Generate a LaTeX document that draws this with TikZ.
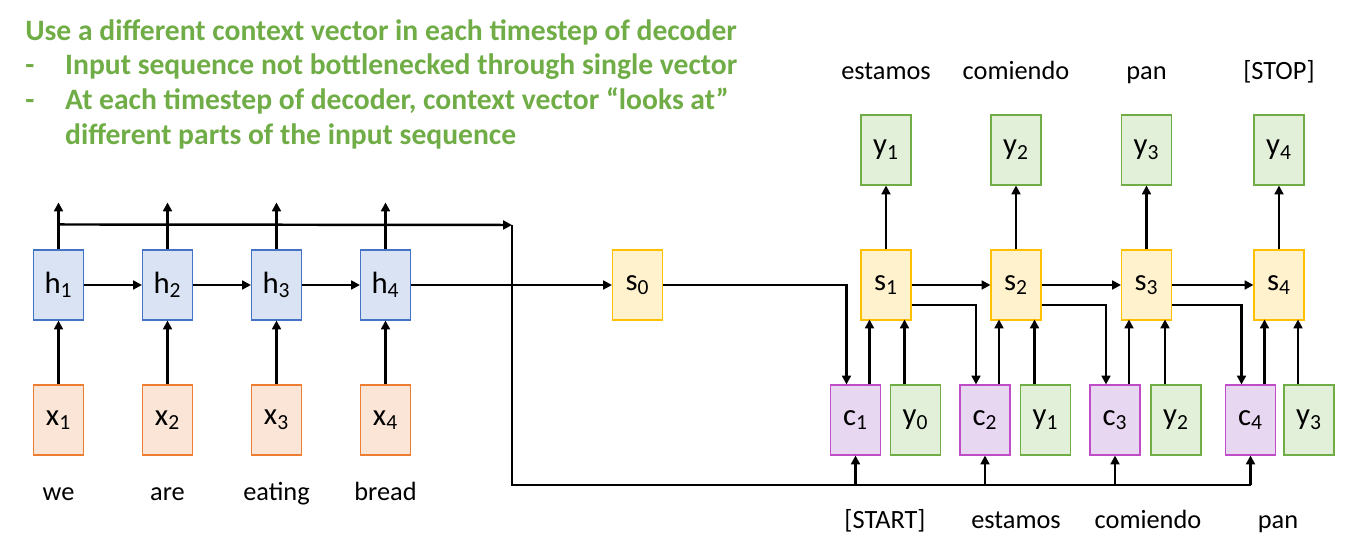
\documentclass[tikz,border=0pt]{standalone}
\usepackage{fontspec}
\setmainfont{Carlito}
\usetikzlibrary{positioning,arrows.meta,calc}
\definecolor{encblue}{HTML}{4472C4}
\definecolor{encfill}{HTML}{DAE3F3}
\definecolor{inorange}{HTML}{ED7D31}
\definecolor{infill}{HTML}{FBE5D6}
\definecolor{decgold}{HTML}{FFC000}
\definecolor{decfill}{HTML}{FFF2CC}
\definecolor{outgreen}{HTML}{70AD47}
\definecolor{outfill}{HTML}{E2F0D9}
\definecolor{ctxpurple}{HTML}{C04CC8}
\definecolor{ctxfill}{HTML}{E8D7F1}
\newcommand{\vsub}[2]{#1\textsubscript{#2}}
\tikzset{
  cell/.style={draw, line width=0.6pt, minimum width=1cm, minimum height=1.4cm,
               inner sep=0pt, font=\fontsize{17.5}{20}\selectfont},
  enc/.style={cell, draw=encblue, fill=encfill},
  inp/.style={cell, draw=inorange, fill=infill},
  dec/.style={cell, draw=decgold, fill=decfill},
  outp/.style={cell, draw=outgreen, fill=outfill},
  ctx/.style={cell, draw=ctxpurple, fill=ctxfill},
  word/.style={inner sep=0pt, text height=10pt, text depth=3pt,
               font=\fontsize{15}{18}\selectfont},
  wire/.style={line width=1.4pt},
  arr/.style={wire, -{Triangle[length=5pt,width=5pt]}}
}

\begin{document}
\begin{tikzpicture}[x=0.02cm, y=-0.02cm]
    \useasboundingbox (0,0) rectangle (1360,546);
    % heading
    \node[anchor=north west, inner sep=0pt, align=left, text=outgreen,
          font=\fontsize{16.85}{19.8}\selectfont\bfseries] (head) at (25,19)
      {Use a different context vector in each timestep of decoder\\
       \makebox[22.7pt][l]{-}Input sequence not bottlenecked through single vector\\
       \makebox[22.7pt][l]{-}At each timestep of decoder, context vector “looks at”\\
       \hspace*{22.7pt}different parts of the input sequence};
    % encoder
    \node[enc] (h1) at (58.5,285) {\vsub{h}{1}};
    \node[enc] (h2) at (167.5,285) {\vsub{h}{2}};
    \node[enc] (h3) at (276.5,285) {\vsub{h}{3}};
    \node[enc] (h4) at (385.5,285) {\vsub{h}{4}};
    \node[inp] (x1) at (58.5,420) {\vsub{x}{1}};
    \node[inp] (x2) at (167.5,420) {\vsub{x}{2}};
    \node[inp] (x3) at (276.5,420) {\vsub{x}{3}};
    \node[inp] (x4) at (385.5,420) {\vsub{x}{4}};
    \node[word, below=15.5pt of x1] (w1) {we};
    \node[word, below=15.5pt of x2] (w2) {are};
    \node[word, below=15.5pt of x3] (w3) {eating};
    \node[word, below=15.5pt of x4] (w4) {bread};
    % decoder
    \node[dec] (s0) at (637.5,285) {\vsub{s}{0}};
    \node[dec] (s1) at (886,285) {\vsub{s}{1}};
    \node[dec] (s2) at (1016,285) {\vsub{s}{2}};
    \node[dec] (s3) at (1146.5,285) {\vsub{s}{3}};
    \node[dec] (s4) at (1279,285) {\vsub{s}{4}};
    \node[outp] (o1) at (886,150) {\vsub{y}{1}};
    \node[outp] (o2) at (1016,150) {\vsub{y}{2}};
    \node[outp] (o3) at (1146.5,150) {\vsub{y}{3}};
    \node[outp] (o4) at (1279,150) {\vsub{y}{4}};
    \node[word, above=16.8pt of o1] (t1) {estamos};
    \node[word, above=16.8pt of o2] (t2) {comiendo};
    \node[word, above=16.8pt of o3] (t3) {pan};
    \node[word, above=16.8pt of o4] (t4) {[STOP]};
    \node[ctx] (c1) at (855.5,420) {\vsub{c}{1}};
    \node[outp] (y0) at (915.5,420) {\vsub{y}{0}};
    \node[ctx] (c2) at (985,420) {\vsub{c}{2}};
    \node[outp] (y1) at (1045.5,420) {\vsub{y}{1}};
    \node[ctx] (c3) at (1115,420) {\vsub{c}{3}};
    \node[outp] (y2) at (1176,420) {\vsub{y}{2}};
    \node[ctx] (c4) at (1250.5,420) {\vsub{c}{4}};
    \node[outp] (y3) at (1309,420) {\vsub{y}{3}};
    \node[word, anchor=base] (p1) at (885,529) {[START]};
    \node[word, anchor=base] (p2) at (1016,529) {estamos};
    \node[word, anchor=base] (p3) at (1148,529) {comiendo};
    \node[word, anchor=base] (p4) at (1278,529) {pan};
    \coordinate (ctxin) at (512,225);
    \coordinate (bus) at (512,485);

    % encoder wiring
    \draw[arr] (x1) -- (h1);
    \draw[arr] (x2) -- (h2);
    \draw[arr] (x3) -- (h3);
    \draw[arr] (x4) -- (h4);
    \draw[arr] (h1) -- (h2);
    \draw[arr] (h2) -- (h3);
    \draw[arr] (h3) -- (h4);
    \draw[arr] (h4) -- (s0);
    \draw[arr] (h1.north) -- ++(0,-47);
    \draw[arr] (h2.north) -- ++(0,-47);
    \draw[arr] (h3.north) -- ++(0,-47);
    \draw[arr] (h4.north) -- ++(0,-47);
    \draw[arr] ($(h1.north)+(0,-25)$) -- (ctxin);
    \draw[wire] (ctxin) -- (bus) -- (bus -| c4);
    \draw[arr] (bus -| c1) -- (c1.south);
    \draw[arr] (bus -| c2) -- (c2.south);
    \draw[arr] (bus -| c3) -- (c3.south);
    \draw[arr] (bus -| c4) -- (c4.south);

    % decoder wiring
    \draw[arr] (s0.east) -| ($(c1.north)+(-9,0)$);
    \draw[arr] (s1) -- (s2);
    \draw[arr] (s2) -- (s3);
    \draw[arr] (s3) -- (s4);
    \draw[arr] ($(s1.east)+(0,20)$) -| ($(c2.north)+(-9,0)$);
    \draw[arr] ($(s2.east)+(0,20)$) -| ($(c3.north)+(-9,0)$);
    \draw[arr] ($(s3.east)+(0,20)$) -| ($(c4.north)+(-9,0)$);
    \draw[arr] (s1) -- (o1);
    \draw[arr] (s2) -- (o2);
    \draw[arr] (s3) -- (o3);
    \draw[arr] (s4) -- (o4);
    \draw[arr] ($(c1.north)+(14,0)$) -- ++(0,-65);
    \draw[arr] ($(c2.north)+(14,0)$) -- ++(0,-65);
    \draw[arr] ($(c3.north)+(14,0)$) -- ++(0,-65);
    \draw[arr] ($(c4.north)+(14,0)$) -- ++(0,-65);
    \draw[arr] ($(y0.north)+(-11,0)$) -- ++(0,-65);
    \draw[arr] ($(y1.north)+(-11,0)$) -- ++(0,-65);
    \draw[arr] ($(y2.north)+(-11,0)$) -- ++(0,-65);
    \draw[arr] ($(y3.north)+(-11,0)$) -- ++(0,-65);
  \end{tikzpicture}
\end{document}
